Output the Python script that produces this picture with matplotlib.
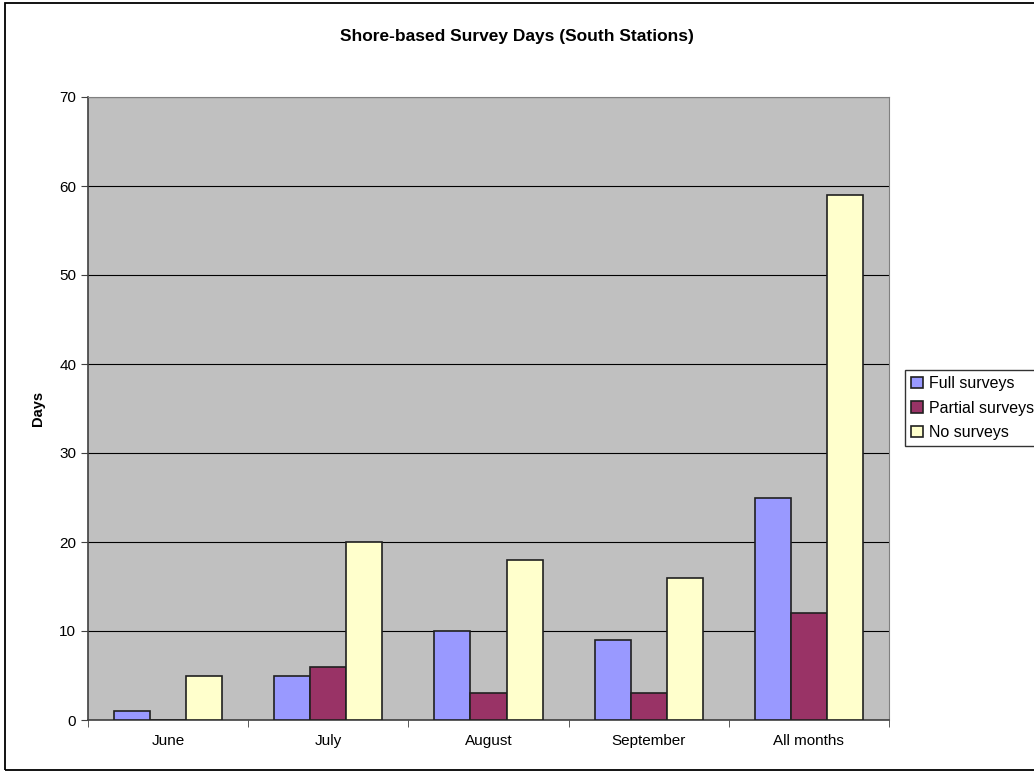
import numpy as np
import matplotlib.pyplot as plt
from matplotlib.patches import Rectangle

# Data
months = ['June', 'July', 'August', 'September', 'All months']
full_surveys = [1, 5, 10, 9, 25]
partial_surveys = [0, 6, 3, 3, 12]
no_surveys = [5, 20, 18, 16, 59]
series_names = ['Full surveys', 'Partial surveys', 'No surveys']
series_colors = ['#9999FF', '#993366', '#FFFFCC']

plt.rcParams['font.family'] = ['Liberation Sans', 'DejaVu Sans']

fig = plt.figure(figsize=(10.34, 7.73), dpi=100)
ax = fig.add_axes([88 / 1034, 1 - 720 / 773, 801 / 1034, 623 / 773])
ax.set_facecolor('#C0C0C0')

# Outer chart border
fig.patches.append(Rectangle((5 / 1034, 1 - 770 / 773), 1.1, 767 / 773,
                             transform=fig.transFigure, fill=False,
                             edgecolor='black', lw=1.3, zorder=0))

x = np.arange(len(months))
w = 0.225
for i, (vals, name, col) in enumerate(zip([full_surveys, partial_surveys, no_surveys],
                                          series_names, series_colors)):
    ax.bar(x + (i - 1) * w, vals, width=w, color=col, edgecolor='#202020',
           linewidth=1.2, label=name, zorder=3)

ax.set_xlim(-0.5, len(months) - 0.5)
ax.set_ylim(0, 70)
ax.set_yticks(range(0, 71, 10))
ax.yaxis.grid(True, color='black', lw=0.8, zorder=1)
ax.set_axisbelow(True)

ax.set_xticks(x)
ax.set_xticklabels(months, fontsize=11)
ax.tick_params(axis='x', length=0, pad=10)
ax.set_xticks(np.arange(-0.5, len(months)), minor=True)
ax.tick_params(axis='x', which='minor', length=5, direction='out', color='#404040')
ax.tick_params(axis='y', labelsize=11, length=5, direction='out', color='#404040')

for side in ['top', 'right']:
    ax.spines[side].set_color('#808080')
for side in ['left', 'bottom']:
    ax.spines[side].set_color('#404040')
    ax.spines[side].set_linewidth(1.2)

ax.set_ylabel('Days', fontsize=10.5, fontweight='bold', labelpad=10)
fig.text(0.5, 1 - 37 / 773, 'Shore-based Survey Days (South Stations)',
         ha='center', va='center', fontsize=12.5, fontweight='bold')

leg = ax.legend(loc='center left', bbox_to_anchor=(905 / 1034, 1 - 408 / 773),
                bbox_transform=fig.transFigure, fontsize=11.5, frameon=True,
                fancybox=False, edgecolor='black', handlelength=0.7,
                handleheight=0.7, handletextpad=0.4, borderpad=0.4,
                labelspacing=0.6, borderaxespad=0)
leg.get_frame().set_linewidth(1.0)

fig.savefig('out.png', dpi=100)
